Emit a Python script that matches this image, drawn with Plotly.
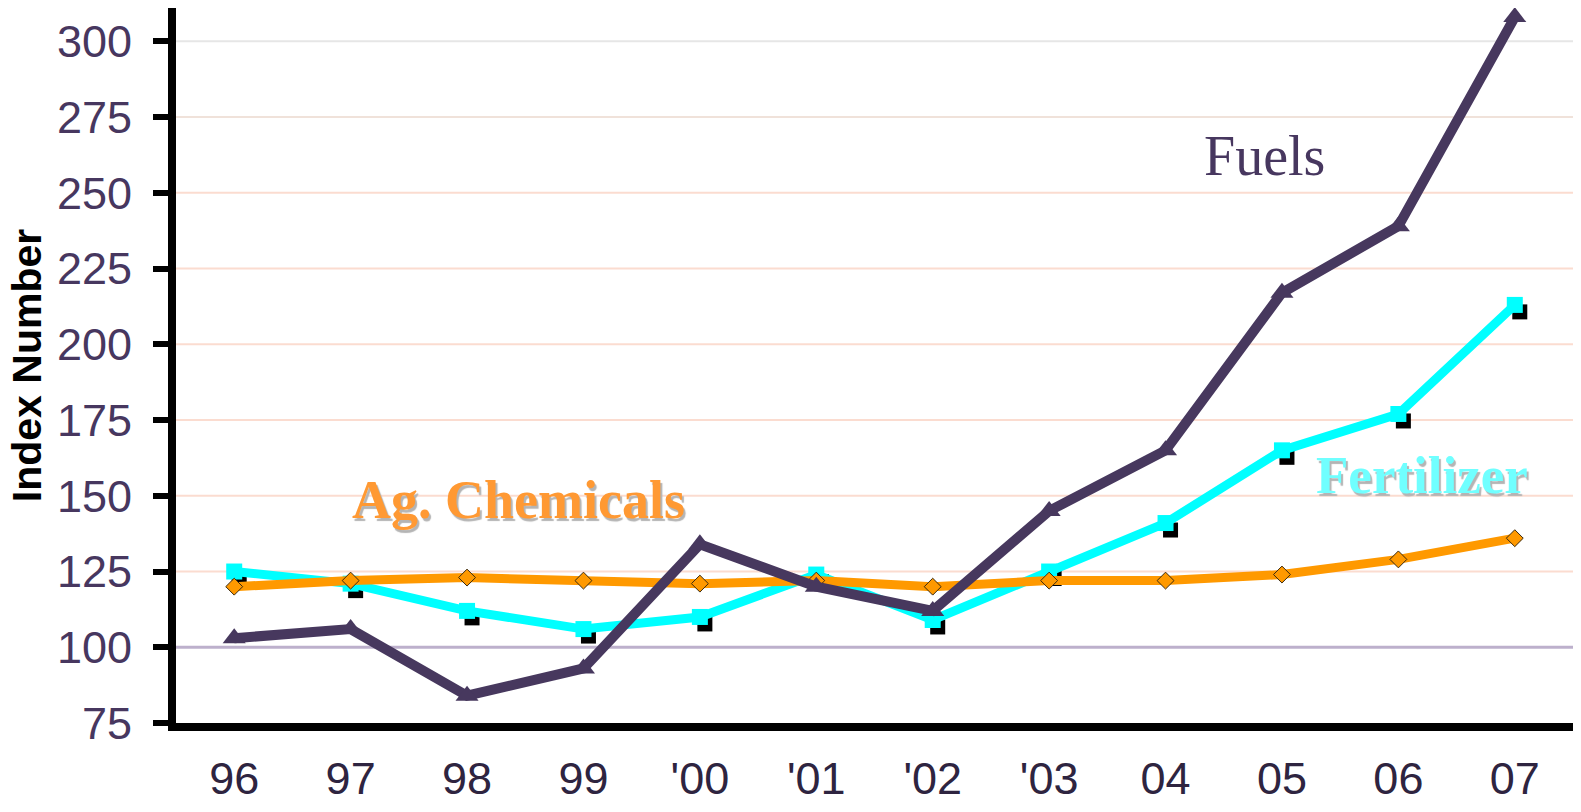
import plotly.graph_objects as go

# Price index series, 1996-2007 (1990-92 = 100)
year_labels = ["96", "97", "98", "99", "'00", "'01", "'02", "'03", "04", "05", "06", "07"]
fuels = [103, 106, 84, 93, 134, 120, 112, 145, 165, 217, 239, 308]
fertilizer = [125, 121, 112, 106, 110, 124, 109, 125, 141, 165, 177, 213]
ag_chemicals = [120, 122, 123, 122, 121, 122, 120, 122, 122, 124, 129, 136]

y_ticks = [75, 100, 125, 150, 175, 200, 225, 250, 275, 300]
BASELINE = 100

x_pos = list(range(len(year_labels)))

W, H = 1581, 812
M_L, M_R, M_T, M_B = 176, 8, 8, 87
X_RANGE = [-0.5, len(year_labels) - 0.5]
Y_RANGE = [75, 311]

# drop-shadow offset for the fertilizer squares, in pixels
SHADOW_DX, SHADOW_DY = 5, 7
px_per_x = (W - M_L - M_R) / (X_RANGE[1] - X_RANGE[0])
px_per_y = (H - M_T - M_B) / (Y_RANGE[1] - Y_RANGE[0])
dx = SHADOW_DX / px_per_x
dy = SHADOW_DY / px_per_y

PURPLE = "#47385E"
CYAN = "#00FFFF"
ORANGE = "#FF9900"


def grid_color(v):
    if v == BASELINE:
        return "#BDB0CC", 3
    if v == y_ticks[-1]:
        return "#E6E6E6", 2
    if v == y_ticks[-2]:
        return "#F0E2DA", 2
    return "#FBDCD0", 2


grid_shapes = []
for v in y_ticks[1:]:
    c, w = grid_color(v)
    grid_shapes.append(dict(type="line", xref="x domain", yref="y", x0=0, x1=1,
                            y0=v, y1=v, layer="below", line=dict(color=c, width=w)))

fig = go.Figure()

# shadow squares (own axis pair, offset range)
fig.add_trace(go.Scatter(
    x=x_pos, y=fertilizer, xaxis="x2", yaxis="y2", mode="markers",
    marker=dict(symbol="square", size=15, color="#000000"),
    hoverinfo="skip", showlegend=False,
))

fig.add_trace(go.Scatter(
    x=x_pos, y=fertilizer, xaxis="x3", yaxis="y3", mode="lines+markers",
    name="Fertilizer",
    line=dict(color=CYAN, width=9),
    marker=dict(symbol="square", size=16, color=CYAN),
    showlegend=False,
))
fig.add_trace(go.Scatter(
    x=x_pos, y=ag_chemicals, xaxis="x3", yaxis="y3", mode="lines+markers",
    name="Ag. Chemicals",
    line=dict(color=ORANGE, width=9),
    marker=dict(symbol="diamond", size=13, color=ORANGE,
                line=dict(color="#3A2A10", width=1)),
    showlegend=False,
))
fig.add_trace(go.Scatter(
    x=x_pos, y=fuels, xaxis="x3", yaxis="y3", mode="lines+markers",
    name="Fuels",
    line=dict(color=PURPLE, width=10),
    marker=dict(symbol="triangle-up", size=20, color=PURPLE),
    showlegend=False,
))

tick_font = dict(family="Liberation Sans, Arial, sans-serif", size=45, color="#47375F")

fig.update_layout(
    width=W, height=H,
    margin=dict(l=M_L, r=M_R, t=M_T, b=M_B, pad=0),
    paper_bgcolor="white", plot_bgcolor="white",
    xaxis=dict(
        range=X_RANGE, tickmode="array", tickvals=x_pos, ticktext=year_labels,
        showgrid=False, zeroline=False,
        showline=True, linecolor="black", linewidth=8,
        ticks="", ticklabelstandoff=9,
        tickfont=dict(family="Liberation Sans, Arial, sans-serif", size=45, color="#2E2440"),
    ),
    yaxis=dict(
        range=Y_RANGE, tickmode="array", tickvals=y_ticks,
        showgrid=False, zeroline=False,
        showline=True, linecolor="black", linewidth=8,
        ticks="outside", ticklen=15, tickwidth=6, tickcolor="black",
        ticklabelstandoff=12,
        tickfont=tick_font,
        title=dict(text="<b>Index Number</b>", standoff=6,
                   font=dict(family="Liberation Sans, Arial, sans-serif", size=41, color="black")),
    ),
    xaxis2=dict(overlaying="x", range=[X_RANGE[0] - dx, X_RANGE[1] - dx], visible=False),
    yaxis2=dict(overlaying="y", range=[Y_RANGE[0] + dy, Y_RANGE[1] + dy], visible=False),
    xaxis3=dict(overlaying="x", range=X_RANGE, visible=False),
    yaxis3=dict(overlaying="y", range=Y_RANGE, visible=False),
    shapes=grid_shapes,
    annotations=[
        dict(x=8.85, y=262, xref="x", yref="y", text="Fuels", showarrow=False,
             font=dict(family="Liberation Serif, Times New Roman, serif", size=56, color="#47375F")),
        dict(x=2.44, y=148.5, xref="x", yref="y", text="<b>Ag. Chemicals</b>", showarrow=False,
             font=dict(family="Liberation Serif, Times New Roman, serif", size=54, color="#FF9933",
                       shadow="2px 3px 1px #B4B4B4")),
        dict(x=10.2, y=157, xref="x", yref="y", text="<b>Fertilizer</b>", showarrow=False,
             font=dict(family="Liberation Serif, Times New Roman, serif", size=53, color="#70FFFF",
                       shadow="2px 3px 1px #B4B4B4")),
    ],
)

fig.write_html("out.html")
